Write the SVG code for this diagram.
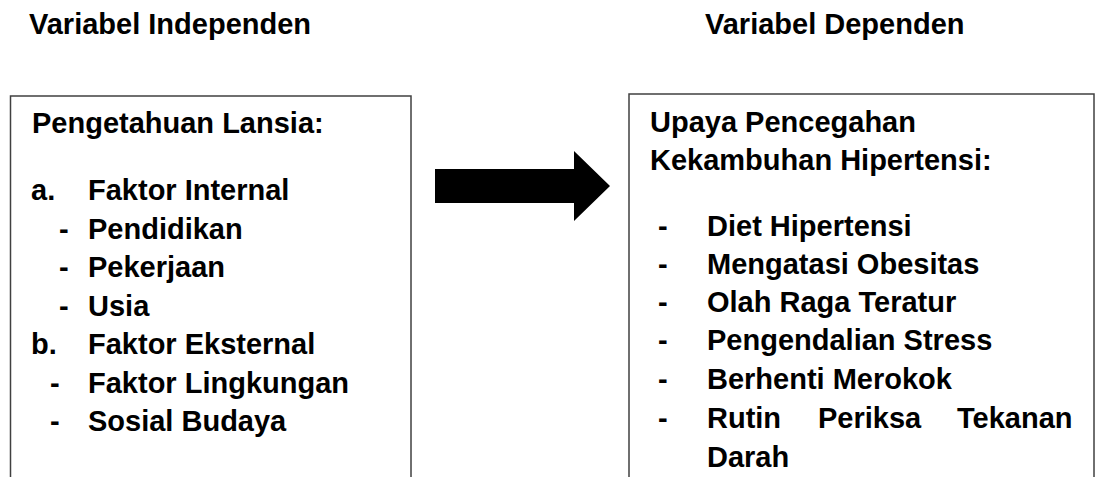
<svg xmlns="http://www.w3.org/2000/svg" width="1096" height="477" viewBox="0 0 1096 477">
  <style>
    .t { font-family: "Liberation Sans", Arial, sans-serif; font-weight: bold; font-size: 29px; fill: #000; }
    .box { fill: #fff; stroke: #404040; stroke-width: 1.5; }
  </style>
  <rect width="1096" height="477" fill="#fff"/>
  <g id="header-independen">
    <text class="t" x="29" y="34">Variabel Independen</text>
  </g>
  <g id="header-dependen">
    <text class="t" x="705" y="34">Variabel Dependen</text>
  </g>
  <g id="node-independen">
    <rect class="box" x="10.5" y="96" width="400.5" height="420"/>
    <text class="t" x="32" y="133">Pengetahuan Lansia:</text>
    <text class="t" x="31" y="200">a.</text>
    <text class="t" x="88" y="200">Faktor Internal</text>
    <text class="t" x="59" y="238.5">-</text>
    <text class="t" x="88" y="238.5">Pendidikan</text>
    <text class="t" x="59" y="277">-</text>
    <text class="t" x="88" y="277">Pekerjaan</text>
    <text class="t" x="59" y="315.5">-</text>
    <text class="t" x="88" y="315.5">Usia</text>
    <text class="t" x="31" y="354">b.</text>
    <text class="t" x="88" y="354">Faktor Eksternal</text>
    <text class="t" x="50" y="392.5">-</text>
    <text class="t" x="88" y="392.5">Faktor Lingkungan</text>
    <text class="t" x="50" y="431">-</text>
    <text class="t" x="88" y="431">Sosial Budaya</text>
  </g>
  <g id="node-dependen">
    <rect class="box" x="629" y="94" width="465" height="420"/>
    <text class="t" x="650" y="132">Upaya Pencegahan</text>
    <text class="t" x="650" y="170">Kekambuhan Hipertensi:</text>
    <text class="t" x="658" y="236">-</text>
    <text class="t" x="707" y="236">Diet Hipertensi</text>
    <text class="t" x="658" y="274">-</text>
    <text class="t" x="707" y="274">Mengatasi Obesitas</text>
    <text class="t" x="658" y="312">-</text>
    <text class="t" x="707" y="312">Olah Raga Teratur</text>
    <text class="t" x="658" y="350">-</text>
    <text class="t" x="707" y="350">Pengendalian Stress</text>
    <text class="t" x="658" y="389">-</text>
    <text class="t" x="707" y="389">Berhenti Merokok</text>
    <text class="t" x="658" y="428">-</text>
    <text class="t" y="428"><tspan x="707">Rutin</tspan><tspan x="818">Periksa</tspan><tspan x="957">Tekanan</tspan></text>
    <text class="t" x="707" y="467">Darah</text>
  </g>
  <g id="connectors">
    <polygon points="435,169 574,169 574,151 610,186 574,221 574,203 435,203" fill="#000"/>
  </g>
</svg>
